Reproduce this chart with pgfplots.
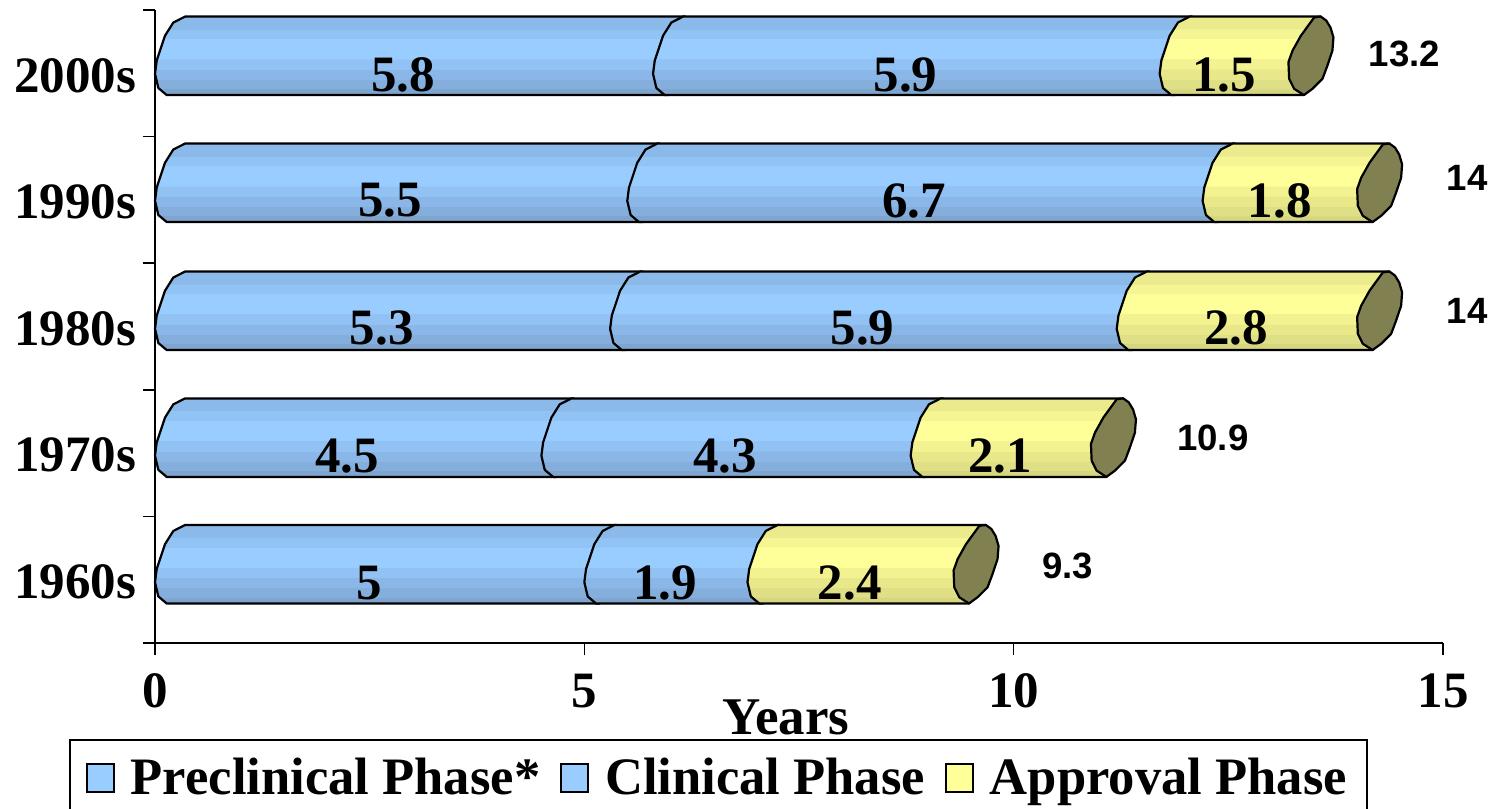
\documentclass[border=0pt]{standalone}
\usepackage{fontspec}
\setmainfont{Liberation Serif}
\newfontfamily\arialb{Liberation Sans}
\usepackage{pgfplots}
\usepackage{pgfplotstable}
\pgfplotsset{compat=1.18}
\definecolor{bA}{HTML}{7FA5CF}\definecolor{bB}{HTML}{84AEDC}\definecolor{bC}{HTML}{8AB7E7}\definecolor{bD}{HTML}{91C2F3}\definecolor{bE}{HTML}{99CCFF}\definecolor{bF}{HTML}{92C3F5}\definecolor{bG}{HTML}{8BBAEA}
\definecolor{yA}{HTML}{D6D680}\definecolor{yB}{HTML}{DFDF86}\definecolor{yC}{HTML}{E8E88B}\definecolor{yD}{HTML}{F2F291}\definecolor{yE}{HTML}{FFFF99}\definecolor{yF}{HTML}{F5F593}\definecolor{yG}{HTML}{EBEB8D}
\definecolor{capc}{HTML}{808050}
\definecolor{blueleg}{HTML}{99CCFF}\definecolor{yelleg}{HTML}{FFFF99}
\pgfdeclareverticalshading{barblue}{100bp}{color(0bp)=(bA);color(29bp)=(bA);color(29bp)=(bB);color(35bp)=(bB);color(35bp)=(bC);color(41.5bp)=(bC);color(41.5bp)=(bD);color(48bp)=(bD);color(48bp)=(bE);color(61bp)=(bE);color(61bp)=(bF);color(67bp)=(bF);color(67bp)=(bG);color(100bp)=(bG)}
\pgfdeclareverticalshading{baryel}{100bp}{color(0bp)=(yA);color(29bp)=(yA);color(29bp)=(yB);color(35bp)=(yB);color(35bp)=(yC);color(41.5bp)=(yC);color(41.5bp)=(yD);color(48bp)=(yD);color(48bp)=(yE);color(61bp)=(yE);color(61bp)=(yF);color(67bp)=(yF);color(67bp)=(yG);color(100bp)=(yG)}
\pgfplotstableread{
a dx f
1 .136 1
1 .039 .91
1 0 .73
1 .02 .56
1 .078 .37
1 .116 .245
1 .213 .076
1 .35 0
0 .376 0
0 .18 1
1 .136 1
}\bodyprofile
\pgfplotstableread{
dx f
.18 1
.066 .92
.008 .793
0 .58
.047 .435
.144 .245
.30 .01
.376 0
.44 .05
.49 .14
.524 .266
.512 .435
.454 .624
.396 .793
.28 .92
.18 1
}\capprofile
% row centre, start, end, shading
\newcommand{\seg}[4]{\addplot[forget plot,mark=none,draw=black,line width=1.1pt,line join=round,shading=#4]
  table[x expr={\thisrow{a}*#2+(1-\thisrow{a})*#3+\thisrow{dx}},y expr={#1+0.31*(1-2*\thisrow{f})}]{\bodyprofile} -- cycle;}
\newcommand{\capend}[2]{\addplot[forget plot,mark=none,draw=black,line width=1.1pt,line join=round,fill=capc]
  table[x expr={#2+\thisrow{dx}},y expr={#1+0.31*(1-2*\thisrow{f})}]{\capprofile} -- cycle;}
\newcommand{\drug}[4]{% centre, cumulative ends of the three phases
  \seg{#1}{0}{#2}{barblue}\seg{#1}{#2}{#3}{barblue}\seg{#1}{#3}{#4}{baryel}\capend{#1}{#4}}
\pgfplotstableread{
x y label
2.89 3.985 5.8
8.74 3.985 5.9
12.45 3.985 1.5
2.74 2.995 5.5
8.84 2.995 6.7
13.1 2.995 1.8
2.64 1.985 5.3
8.24 1.985 5.9
12.59 1.985 2.8
2.24 0.975 4.5
6.64 0.975 4.3
9.84 0.975 2.1
2.49 -0.025 5
5.94 -0.025 1.9
8.09 -0.025 2.4
}\seglabels
\pgfplotstableread{
x y label
14.55 4.155 13.2
15.28 3.17 14
15.28 2.125 14
12.32 1.12 10.9
10.63 0.11 9.3
}\totals
\begin{document}
\begin{tikzpicture}[x=1pt,y=1pt]
\path[use as bounding box] (0,0) rectangle (748.5,404);
\begin{axis}[
  at={(77.5pt,82.5pt)},anchor=south west,
  scale only axis,width=644pt,height=316.5pt,
  xmin=0,xmax=15,ymin=-0.5,ymax=4.5,clip=false,
  axis lines=left,axis line style={-,line width=1pt},
  tick style={black,line width=0.8pt},
  tick align=outside,major tick length=6pt,
  xtick={0,5,10,15},xticklabels={0,5,10,15},
  ytick={-0.5,0.5,1.5,2.5,3.5,4.5},yticklabels={},
  extra y ticks={0,1,2,3,4},
  extra y tick labels={1960s,1970s,1980s,1990s,2000s},
  extra y tick style={major tick length=0pt,tick style={draw=none},
    yticklabel style={xshift=-6pt,yshift=-1pt}},
  ticklabel style={font=\fontsize{25.5}{25.5}\selectfont\bfseries},
  xticklabel style={yshift=-6pt},
  xlabel={Years},
  xlabel style={at={(rel axis cs:0.49,0)},anchor=center,yshift=-37pt,font=\fontsize{26.5}{26.5}\selectfont\bfseries},
  legend columns=3,
  legend cell align=left,
  legend style={at={(rel axis cs:-0.0668,-0.1517)},anchor=north west,draw=black,line width=1pt,
    inner xsep=8pt,inner ysep=7pt,fill=white,
    font=\fontsize{26.3}{26.3}\selectfont\bfseries,
    /tikz/every even column/.append style={column sep=8pt},
    /tikz/every odd column/.append style={column sep=6pt},
    nodes={inner sep=2pt}},
]
\addlegendimage{legend image code/.code={\draw[black,line width=0.9pt,fill=blueleg] (0pt,-7pt) rectangle (13.5pt,7pt);}}
\addlegendentry{Preclinical Phase*}
\addlegendimage{legend image code/.code={\draw[black,line width=0.9pt,fill=blueleg] (0pt,-7pt) rectangle (13.5pt,7pt);}}
\addlegendentry{Clinical Phase}
\addlegendimage{legend image code/.code={\draw[black,line width=0.9pt,fill=yelleg] (0pt,-7pt) rectangle (13.5pt,7pt);}}
\addlegendentry{Approval Phase}
\drug{4.138}{5.8}{11.7}{13.2}
\drug{3.135}{5.5}{12.2}{14}
\drug{2.124}{5.3}{11.2}{14}
\drug{1.122}{4.5}{8.8}{10.9}
\drug{0.122}{5}{6.9}{9.3}
\addplot[forget plot,draw=none,mark=none,nodes near coords,point meta=explicit symbolic,
  nodes near coords style={anchor=center,inner sep=0pt,font=\fontsize{25.5}{25.5}\selectfont\bfseries}]
  table[x=x,y=y,meta=label]{\seglabels};
\addplot[forget plot,draw=none,mark=none,nodes near coords,point meta=explicit symbolic,
  nodes near coords style={anchor=center,inner sep=0pt,font=\fontsize{18.3}{18.3}\selectfont\arialb\bfseries}]
  table[x=x,y=y,meta=label]{\totals};
\end{axis}
\end{tikzpicture}
\end{document}
